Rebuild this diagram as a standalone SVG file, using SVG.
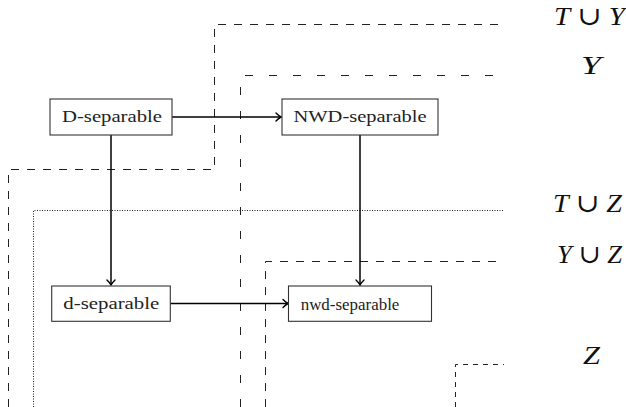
<svg xmlns="http://www.w3.org/2000/svg" width="626" height="407" viewBox="0 0 626 407">
<defs>
<marker id="arr" markerUnits="userSpaceOnUse" markerWidth="12" markerHeight="12" viewBox="-8 -6 10 12" refX="0" refY="0" orient="auto">
<path d="M -5 -4 Q -2 -1 0 0 Q -2 1 -5 4" fill="none" stroke="#000" stroke-width="1.4" stroke-linecap="round"/>
</marker>
<style>
.box{fill:#fff;stroke:#333;stroke-width:1.1}
.nt{font-family:"Liberation Serif","DejaVu Serif",serif;font-size:16px;fill:#222}
.lb{font-family:"Liberation Serif","DejaVu Serif",serif;font-size:26px;fill:#111}
.it{font-style:italic}
.reg{fill:none;stroke:#222;stroke-width:1}
.edge{fill:none;stroke:#000;stroke-width:1.5}
</style>
</defs>
<rect width="626" height="407" fill="#fff"/>
<g id="regions">
<path class="reg" d="M 8.5 407 V 169.5 H 214.5 V 24.5 H 504" stroke-dasharray="8 8"/>
<path class="reg" d="M 240.5 407 V 75.5 H 504" stroke-dasharray="8 16"/>
<path class="reg" d="M 33.5 407 V 210.5 H 504" stroke-dasharray="1 1.5"/>
<path class="reg" d="M 265.5 407 V 261.5 H 504" stroke-dasharray="8 8"/>
<path class="reg" d="M 455.5 407 V 364.5 H 504" stroke-dasharray="5 5"/>
</g>
<g id="region-labels">
<text class="lb" x="554" y="25" textLength="71" lengthAdjust="spacingAndGlyphs"><tspan class="it">T</tspan> ∪ <tspan class="it">Y</tspan></text>
<text class="lb it" x="581" y="74" textLength="20" lengthAdjust="spacingAndGlyphs">Y</text>
<text class="lb" x="553" y="211.5" textLength="69" lengthAdjust="spacingAndGlyphs"><tspan class="it">T</tspan> ∪ <tspan class="it">Z</tspan></text>
<text class="lb" x="557" y="263" textLength="65" lengthAdjust="spacingAndGlyphs"><tspan class="it">Y</tspan> ∪ <tspan class="it">Z</tspan></text>
<text class="lb it" x="583" y="364" textLength="17" lengthAdjust="spacingAndGlyphs">Z</text>
</g>
<g id="connectors">
<line class="edge" x1="172" y1="117" x2="281" y2="117" marker-end="url(#arr)"/>
<line class="edge" x1="111" y1="135" x2="111" y2="285" marker-end="url(#arr)"/>
<line class="edge" x1="360" y1="135" x2="360" y2="285" marker-end="url(#arr)"/>
<line class="edge" x1="170" y1="303.5" x2="288" y2="303.5" marker-end="url(#arr)"/>
</g>
<g id="D-separable">
<rect class="box" x="50" y="99" width="122" height="36"/>
<text class="nt" x="62" y="121.7" textLength="100" lengthAdjust="spacingAndGlyphs">D-separable</text>
</g>
<g id="NWD-separable">
<rect class="box" x="282" y="99" width="156" height="36"/>
<text class="nt" x="293.5" y="121.7" textLength="133" lengthAdjust="spacingAndGlyphs">NWD-separable</text>
</g>
<g id="d-separable">
<rect class="box" x="51.7" y="286" width="118.6" height="35.3"/>
<text class="nt" x="63.3" y="309" textLength="96" lengthAdjust="spacingAndGlyphs">d-separable</text>
</g>
<g id="nwd-separable">
<rect class="box" x="288.5" y="286" width="143" height="35.3"/>
<text class="nt" x="300.7" y="309.5" textLength="98.7" lengthAdjust="spacingAndGlyphs">nwd-separable</text>
</g>
</svg>
